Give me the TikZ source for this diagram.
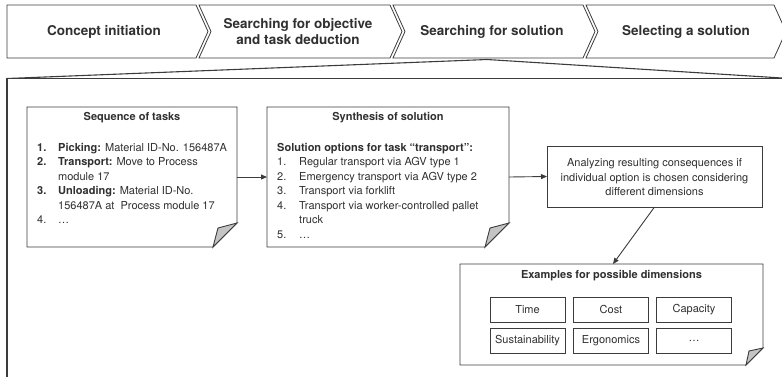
\documentclass[tikz,border=0pt]{standalone}
\usepackage{fontspec}
\setmainfont{TeX Gyre Heros}
\usetikzlibrary{arrows.meta}
\definecolor{ln}{HTML}{3C3C3C}
\definecolor{tx}{HTML}{303030}
\definecolor{flapc}{HTML}{C4C4C4}
\newcommand{\foldnote}[3]{%
  \draw[notebox] (#1.north west) -- (#1.north east) -- ([yshift=#2]#1.south east)
    -- ([xshift=-#2]#1.south east) -- (#1.south west) -- cycle;
  \filldraw[notebox, fill=flapc] ([xshift=-#2]#1.south east) -- ([yshift=#2]#1.south east)
    -- ([xshift=-#3, yshift=#3]#1.south east) -- cycle;}
\begin{document}
\begin{tikzpicture}[x=1pt, y=-1pt,
  chev/.style={draw=ln, line width=0.8pt, fill=white},
  chevtext/.style={font=\fontsize{13.5}{15.5}\selectfont\bfseries, text=tx, align=center},
  notebox/.style={draw=ln, line width=0.9pt, fill=white},
  notenode/.style={draw=none, inner sep=0pt, outer sep=0pt},
  titletext/.style={font=\fontsize{11}{13}\selectfont\bfseries, text=tx},
  bodytext/.style={font=\fontsize{11}{14.5}\selectfont, text=tx, align=left, inner sep=0pt},
  plainbox/.style={draw=ln, line width=0.9pt, fill=white, inner sep=0pt, outer sep=0pt},
  dimbox/.style={draw=ln, line width=0.8pt, minimum width=75pt, minimum height=25pt, inner sep=0pt,
    font=\fontsize{11}{13}\selectfont, text=tx},
  arr/.style={draw=ln, line width=0.9pt, -{Triangle[length=6pt,width=5pt]}},
  frameline/.style={draw=ln, line width=1.3pt}
]
\useasboundingbox (0,0) rectangle (782,376);

% --- process chevrons ---
\draw[chev] (7,5) -- (196,5) -- (208,31.5) -- (196,58) -- (7,58) -- cycle;
\draw[chev] (199,5) -- (390,5) -- (402,31.5) -- (390,58) -- (199,58) -- (211,31.5) -- cycle;
\draw[chev] (393,5) -- (583,5) -- (595,31.5) -- (583,58) -- (393,58) -- (405,31.5) -- cycle;
\draw[chev] (586,5) -- (774,5) -- (786,31.5) -- (774,58) -- (586,58) -- (598,31.5) -- cycle;
\node[chevtext] (c1) at (104,31.5) {Concept initiation};
\node[chevtext] (c2) at (298,31.5) {Searching for objective\\and task deduction};
\node[chevtext] (c3) at (492,31.5) {Searching for solution};
\node[chevtext] (c4) at (686,31.5) {Selecting a solution};

% --- zoom frame ---
\coordinate (fl) at (7,78.5);
\coordinate (fa) at (487,59.5);
\coordinate (fr) at (782,78);
\draw[frameline] (7,380) -- (fl) -- (782,78.5);
\draw[draw=ln, line width=1.1pt] (fl) -- (fa) -- (fr);

% --- sequence of tasks ---
\node[notenode, minimum width=210pt, minimum height=140pt] (seq) at (132,177) {};
\foldnote{seq}{24pt}{19pt}
\node[titletext] (seqtitle) at (132,118) {Sequence of tasks};
\node[bodytext, anchor=base west] (seqlist) at (37,223.5) {%
\makebox[21pt][l]{\bfseries 1.}\textbf{Picking:} Material ID-No. 156487A\\
\makebox[21pt][l]{\bfseries 2.}\textbf{Transport:} Move to Process\\
\hspace*{21pt}module 17\\
\makebox[21pt][l]{\bfseries 3.}\textbf{Unloading:} Material ID-No.\\
\hspace*{21pt}156487A at\ \ Process module 17\\
\makebox[21pt][l]{4.}\dots};

% --- synthesis of solution ---
\node[notenode, minimum width=242pt, minimum height=140pt] (syn) at (388,177) {};
\foldnote{syn}{24pt}{19pt}
\node[titletext] (syntitle) at (388,118) {Synthesis of solution};
\node[bodytext, anchor=base west] (synlist) at (277,238) {%
\textbf{Solution options for task \textquotedblleft transport\textquotedblright:}\\
\makebox[22pt][l]{1.}Regular transport via AGV type 1\\
\makebox[22pt][l]{2.}Emergency transport via AGV type 2\\
\makebox[22pt][l]{3.}Transport via forklift\\
\makebox[22pt][l]{4.}Transport via worker-controlled pallet\\
\hspace*{22pt}truck\\
\makebox[22pt][l]{5.}\dots};

% --- analysis box ---
\node[plainbox, minimum width=215pt, minimum height=61pt] (ana) at (654.5,176.5) {};
\node[bodytext, align=center] (anatext) at (654.5,177.5) {Analyzing resulting consequences if\\individual option is chosen considering\\different dimensions};

% --- examples for possible dimensions ---
\node[notenode, minimum width=303pt, minimum height=101pt] (ex) at (611.5,314.5) {};
\foldnote{ex}{17pt}{14pt}
\node[titletext] (extitle) at (611.5,275.5) {Examples for possible dimensions};
\node[dimbox] (d1) at (527.5,309.5) {Time};
\node[dimbox] (d2) at (611,309.5) {Cost};
\node[dimbox] (d3) at (694,309.5) {Capacity};
\node[dimbox] (d4) at (527.5,340.5) {Sustainability};
\node[dimbox] (d5) at (611,340.5) {Ergonomics};
\node[dimbox] (d6) at (694,340.5) {\dots};

% --- connectors ---
\draw[arr] (seq.east) -- (syn.west);
\draw[arr] (syn.east) -- (ana.west);
\draw[arr] (ana.south) -- ([xshift=1.5pt]ex.north);
\end{tikzpicture}
\end{document}
